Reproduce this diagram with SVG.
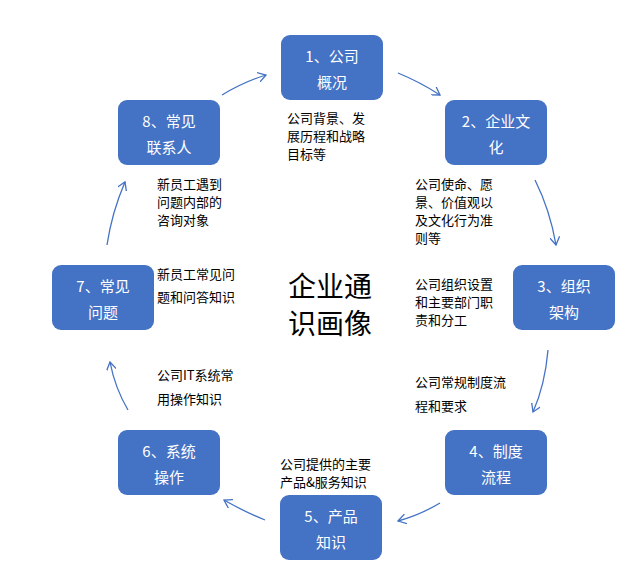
<svg xmlns="http://www.w3.org/2000/svg" width="640" height="575" viewBox="0 0 640 575">
<style>
.b{fill:#4472C4}
.bt{font-family:"Noto Sans CJK SC",sans-serif;font-size:15px;fill:#fff;text-anchor:middle}
.t{font-family:"Noto Sans CJK SC",sans-serif;font-size:13px;fill:#000}
.c{fill:none;stroke:#4472C4;stroke-width:1.3;marker-end:url(#a)}
</style>
<defs><marker id="a" markerWidth="10" markerHeight="10" refX="8" refY="5" orient="auto" markerUnits="userSpaceOnUse"><path d="M0,0 L8,5 L0,10" fill="none" stroke="#4472C4" stroke-width="1.3"/></marker></defs>
<rect width="640" height="575" fill="#fff"/>
<g id="connectors">
<path class="c" d="M398,73 Q420,82 440,95"/>
<path class="c" d="M535,180 Q550,210 556,245"/>
<path class="c" d="M548,350 Q545,385 533,412"/>
<path class="c" d="M440,503 Q420,515 398,521"/>
<path class="c" d="M265,520 Q245,512 224,500"/>
<path class="c" d="M128,410 Q115,388 110,362"/>
<path class="c" d="M107,245 Q112,212 125,182"/>
<path class="c" d="M222,95 Q243,82 266,75"/>
</g>
<g id="n1"><rect class="b" x="281" y="35" width="102" height="65" rx="9"/><text class="bt" x="332" y="62">1、公司</text><text class="bt" x="332" y="88">概况</text></g>
<g id="n2"><rect class="b" x="445" y="100" width="102" height="65" rx="9"/><text class="bt" x="496" y="127">2、企业文</text><text class="bt" x="496" y="153">化</text></g>
<g id="n3"><rect class="b" x="513" y="265" width="102" height="65" rx="9"/><text class="bt" x="564" y="292">3、组织</text><text class="bt" x="564" y="318">架构</text></g>
<g id="n4"><rect class="b" x="445" y="430" width="102" height="65" rx="9"/><text class="bt" x="496" y="457">4、制度</text><text class="bt" x="496" y="483">流程</text></g>
<g id="n5"><rect class="b" x="280" y="495" width="102" height="65" rx="9"/><text class="bt" x="331" y="522">5、产品</text><text class="bt" x="331" y="548">知识</text></g>
<g id="n6"><rect class="b" x="118" y="430" width="102" height="65" rx="9"/><text class="bt" x="169" y="457">6、系统</text><text class="bt" x="169" y="483">操作</text></g>
<g id="n7"><rect class="b" x="52" y="265" width="102" height="65" rx="9"/><text class="bt" x="103" y="292">7、常见</text><text class="bt" x="103" y="318">问题</text></g>
<g id="n8"><rect class="b" x="118" y="100" width="102" height="65" rx="9"/><text class="bt" x="169" y="127">8、常见</text><text class="bt" x="169" y="153">联系人</text></g>
<g id="labels">
<text class="t" x="287" y="123">公司背景、发</text><text class="t" x="287" y="141">展历程和战略</text><text class="t" x="287" y="159">目标等</text>
<text class="t" x="415" y="189">公司使命、愿</text><text class="t" x="415" y="207">景、价值观以</text><text class="t" x="415" y="225">及文化行为准</text><text class="t" x="415" y="243">则等</text>
<text class="t" x="415" y="289">公司组织设置</text><text class="t" x="415" y="307">和主要部门职</text><text class="t" x="415" y="325">责和分工</text>
<text class="t" x="415" y="387">公司常规制度流</text><text class="t" x="415" y="411">程和要求</text>
<text class="t" x="280" y="469">公司提供的主要</text><text class="t" x="280" y="487">产品&amp;服务知识</text>
<text class="t" x="157" y="380">公司IT系统常</text><text class="t" x="157" y="404">用操作知识</text>
<text class="t" x="157" y="279">新员工常见问</text><text class="t" x="157" y="302">题和问答知识</text>
<text class="t" x="157" y="189">新员工遇到</text><text class="t" x="157" y="207">问题内部的</text><text class="t" x="157" y="225">咨询对象</text>
<text x="330" y="297" font-family="Noto Sans CJK SC,sans-serif" font-size="28" text-anchor="middle">企业通</text>
<text x="330" y="334" font-family="Noto Sans CJK SC,sans-serif" font-size="28" text-anchor="middle">识画像</text>
</g>
</svg>
